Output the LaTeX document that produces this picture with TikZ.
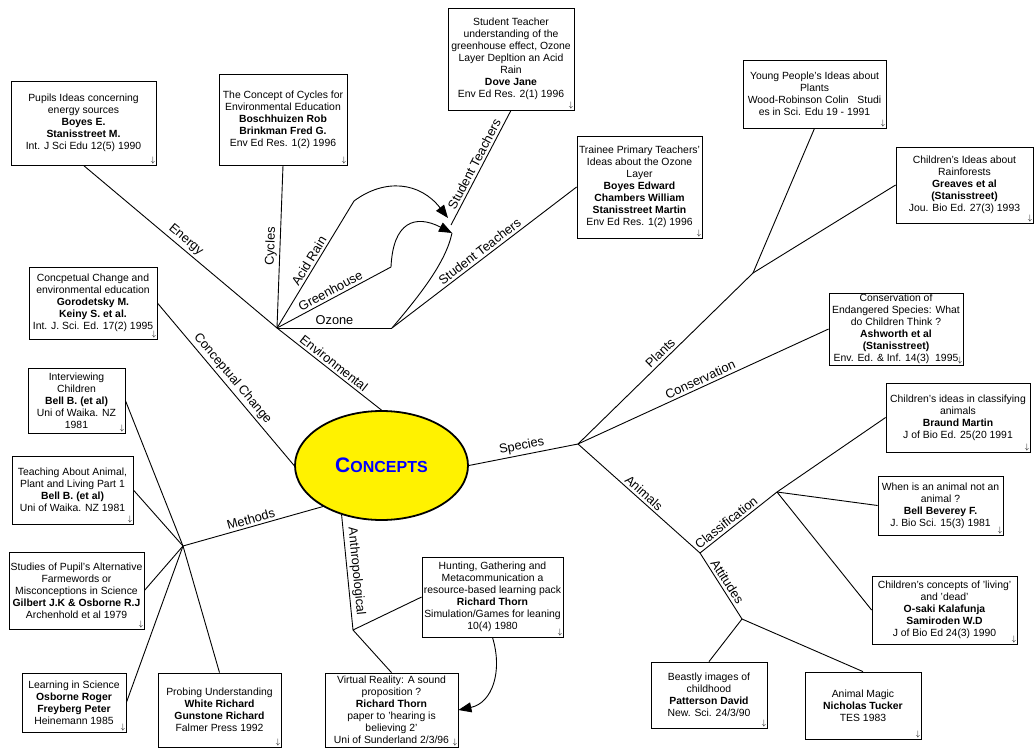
\documentclass[tikz,border=0pt]{standalone}
\usepackage{fontspec}
\setmainfont{Liberation Sans}
\usetikzlibrary{arrows.meta,shapes.geometric}

\begin{document}
\begin{tikzpicture}[x=1pt,y=-1pt,
  ref/.style={draw,fill=white,line width=0.8pt,align=center,inner sep=1pt,
    font=\fontsize{10.4}{12}\selectfont,label={[dnmark]south east:$\downarrow$}},
  dnmark/.style={anchor=south east,inner sep=1.2pt,font=\footnotesize\bfseries},
  branch/.style={midway,sloped,above,inner sep=2.5pt,font=\fontsize{12.8}{13}\selectfont},
  link/.style={line width=0.9pt},
  tip/.style={-{Triangle[length=13pt,width=10pt]}}]

\useasboundingbox (0,0) rectangle (1034,749);

% centre
\node[ellipse,draw,fill=yellow,line width=1.8pt,minimum width=173,minimum height=109,inner sep=0,
  text=blue,font=\bfseries] (concepts) at (381.5,465.5)
  {{\fontsize{21}{21}\selectfont C}{\fontsize{16}{16}\selectfont ONCEPTS}};

% references
\node[ref,minimum width=145,minimum height=84] (energybox) at (83.5,123)
  {Pupils Ideas concerning\\energy sources\\\textbf{Boyes E.}\\\textbf{Stanisstreet M.}\\Int. J Sci Edu 12(5) 1990};
\node[ref,minimum width=128,minimum height=91] (cyclesbox) at (283,119.5)
  {The Concept of Cycles for\\Environmental Education\\\textbf{Boschhuizen Rob}\\\textbf{Brinkman Fred G.}\\Env Ed Res. 1(2) 1996};
\node[ref,minimum width=126,minimum height=102] (dovebox) at (511,59)
  {Student Teacher\\understanding of the\\greenhouse effect, Ozone\\Layer Depltion an Acid\\Rain\\\textbf{Dove Jane}\\Env Ed Res. 2(1) 1996};
\node[ref,minimum width=125,minimum height=102] (traineebox) at (639.5,187)
  {Trainee Primary Teachers'\\Ideas about the Ozone\\Layer\\\textbf{Boyes Edward}\\\textbf{Chambers William}\\\textbf{Stanisstreet Martin}\\Env Ed Res. 1(2) 1996};
\node[ref,minimum width=143,minimum height=68] (youngbox) at (814.5,94)
  {Young People's Ideas about\\Plants\\Wood-Robinson Colin~~~Studi\\es in Sci. Edu 19 - 1991};
\node[ref,minimum width=137,minimum height=76] (rainbox) at (964.5,185)
  {Children's Ideas about\\Rainforests\\\textbf{Greaves et al}\\\textbf{(Stanisstreet)}\\Jou. Bio Ed. 27(3) 1993};
\node[ref,minimum width=128,minimum height=72] (concbox) at (93,303)
  {Concpetual Change and\\environmental education\\\textbf{Gorodetsky M.}\\\textbf{Keiny S. et al.}\\Int. J. Sci. Ed. 17(2) 1995};
\node[ref,minimum width=97,minimum height=65] (interviewbox) at (76.5,400.5)
  {Interviewing\\Children\\\textbf{Bell B. (et al)}\\Uni of Waika. NZ\\1981};
\node[ref,minimum width=121,minimum height=68] (teachbox) at (72.5,490)
  {Teaching About Animal,\\Plant and Living Part 1\\\textbf{Bell B. (et al)}\\Uni of Waika. NZ 1981};
\node[ref,minimum width=135,minimum height=77] (studiesbox) at (76.5,590.5)
  {Studies of Pupil's Alternative\\Farmewords or\\Misconceptions in Science\\\textbf{Gilbert J.K \& Osborne R.J}\\Archenhold et al 1979};
\node[ref,minimum width=104,minimum height=59] (learnbox) at (74,702.5)
  {Learning in Science\\\textbf{Osborne Roger}\\\textbf{Freyberg Peter}\\Heinemann 1985};
\node[ref,minimum width=123,minimum height=74] (probebox) at (219.5,710)
  {Probing Understanding\\\textbf{White Richard}\\\textbf{Gunstone Richard}\\Falmer Press 1992};
\node[ref,minimum width=141,minimum height=80] (huntbox) at (492.5,597)
  {Hunting, Gathering and\\Metacommunication a\\resource-based learning pack\\\textbf{Richard Thorn}\\Simulation/Games for leaning\\10(4) 1980};
\node[ref,minimum width=133,minimum height=74] (virtualbox) at (391.5,710)
  {Virtual Reality: A sound\\proposition ?\\\textbf{Richard Thorn}\\paper to 'hearing is\\believing 2'\\Uni of Sunderland 2/3/96};
\node[ref,minimum width=134,minimum height=72] (consbox) at (896,329)
  {Conservation of\\Endangered Species: What\\do Children Think ?\\\textbf{Ashworth et al}\\\textbf{(Stanisstreet)}\\Env. Ed. \& Inf. 14(3)~~1995};
\node[ref,minimum width=144,minimum height=69] (classbox) at (958,417.5)
  {Children's ideas in classifying\\animals\\\textbf{Braund Martin}\\J of Bio Ed. 25(20 1991};
\node[ref,minimum width=125,minimum height=59] (notanimalbox) at (940.5,505.5)
  {When is an animal not an\\animal ?\\\textbf{Bell Beverey F.}\\J. Bio Sci. 15(3) 1981};
\node[ref,minimum width=145,minimum height=68] (livingbox) at (944.5,610)
  {Children's concepts of 'living'\\and 'dead'\\\textbf{O-saki Kalafunja}\\\textbf{Samiroden W.D}\\J of Bio Ed 24(3) 1990};
\node[ref,minimum width=116,minimum height=66] (beastbox) at (709,695)
  {Beastly images of\\childhood\\\textbf{Patterson David}\\New. Sci. 24/3/90};
\node[ref,minimum width=116,minimum height=67] (magicbox) at (863,705.5)
  {Animal Magic\\\textbf{Nicholas Tucker}\\TES 1983};

% junctions
\coordinate (jenv) at (277,328);
\coordinate (acid) at (354,201);
\coordinate (green) at (391,267);
\coordinate (ozone) at (392,328);
\coordinate (st) at (451,225);
\coordinate (sta) at (448,218);
\coordinate (stb) at (452,233);
\coordinate (jmeth) at (183,546);
\coordinate (janth) at (353,630);
\coordinate (jspec) at (578,444);
\coordinate (jplant) at (753,273);
\coordinate (janim) at (700,553);
\coordinate (jclass) at (777,492);
\coordinate (jatt) at (742,619);

% environmental branch
\draw[link] (jenv) -- (concepts.north) node[branch]{Environmental};
\draw[link] (jenv) -- (energybox.south) node[branch]{Energy};
\draw[link] (jenv) -- (cyclesbox.south) node[branch]{Cycles};
\draw[link] (jenv) -- (acid) node[branch]{Acid Rain};
\draw[link] (jenv) -- (green) node[branch]{Greenhouse};
\draw[link] (jenv) -- (ozone) node[branch]{Ozone};
\draw[link,tip] (acid) .. controls (385,178) and (420,182) .. (sta);
\draw[link,tip] (green) .. controls (393,222) and (415,214) .. (stb);
\draw[link] (ozone) .. controls (420,295) and (446,262) .. (stb);
\draw[link] (st) -- (dovebox.south) node[branch]{Student Teachers};
\draw[link] (ozone) -- (traineebox.west) node[branch]{Student Teachers};

% conceptual change and methods
\draw[link] (concbox.east) -- (concepts.west) node[branch]{Conceptual Change};
\draw[link] (jmeth) -- (concepts.215) node[branch]{Methods};
\draw[link] (jmeth) -- (interviewbox.east);
\draw[link] (jmeth) -- (teachbox.east);
\draw[link] (jmeth) -- (studiesbox.east);
\draw[link] (jmeth) -- (learnbox.east);
\draw[link] (jmeth) -- (probebox.north);

% anthropological
\draw[link] (concepts.231) -- (janth) node[branch]{Anthropological};
\draw[link] (janth) -- (huntbox.west);
\draw[link] (janth) -- (virtualbox.north);
\draw[link,tip] (huntbox.south) .. controls (503,672) and (492,703) .. (virtualbox.east);

% species
\draw[link] (concepts.east) -- (jspec) node[branch]{Species};
\draw[link] (jspec) -- (jplant) node[branch]{Plants};
\draw[link] (jplant) -- (youngbox.south);
\draw[link] (jplant) -- (rainbox.west);
\draw[link] (jspec) -- (consbox.west) node[branch]{Conservation};
\draw[link] (jspec) -- (janim) node[branch]{Animals};
\draw[link] (janim) -- (jclass) node[branch,pos=0.4]{Classification};
\draw[link] (jclass) -- (classbox.west);
\draw[link] (jclass) -- (notanimalbox.west);
\draw[link] (jclass) -- (livingbox.west);
\draw[link] (janim) -- (jatt) node[branch]{Attitudes};
\draw[link] (jatt) -- (beastbox.north);
\draw[link] (jatt) -- (magicbox.north);
\end{tikzpicture}
\end{document}
